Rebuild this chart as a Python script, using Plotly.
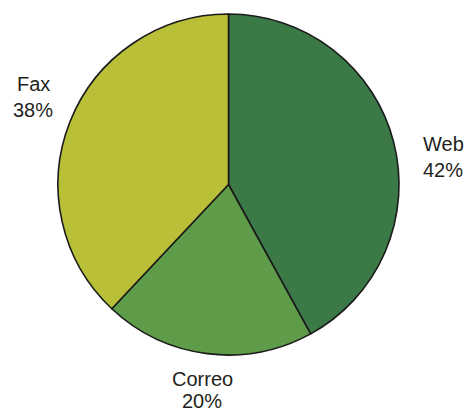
import plotly.graph_objects as go

labels = ["Web", "Correo", "Fax"]
values = [42, 20, 38]
colors = ["#3b7a47", "#5f9c4a", "#b9bf37"]

fig = go.Figure(go.Pie(
    labels=labels, values=values, sort=False, direction="clockwise", rotation=0,
    marker=dict(colors=colors, line=dict(color="#1a1a1a", width=1.6)),
    textinfo="none", hoverinfo="label+percent",
    domain=dict(x=[58/467, 399/467], y=[(412-355)/412, (412-14)/412]),
    showlegend=False,
))

# label positions (pixels): centre x, y of name line, y of percent line
label_pos = {"Web": (443, 144, 170), "Correo": (202, 379, 401), "Fax": (33, 84, 110)}
total = sum(values)
anns = []
for lab, val in zip(labels, values):
    x, y1, y2 = label_pos[lab]
    for txt, yy in ((lab, y1), (f"{round(100*val/total)}%", y2)):
        anns.append(dict(x=x/467, y=1 - yy/412, xref="paper", yref="paper",
                         text=txt, showarrow=False, xanchor="center", yanchor="middle",
                         font=dict(family="Liberation Sans, Arial, sans-serif", size=20, color="#231f20")))

fig.update_layout(width=467, height=412, margin=dict(l=0, r=0, t=0, b=0),
                  paper_bgcolor="white", plot_bgcolor="white", annotations=anns)
fig.write_html("out.html", config={"displayModeBar": False},
               post_script="document.body.style.margin='0';document.body.style.padding='0';")
